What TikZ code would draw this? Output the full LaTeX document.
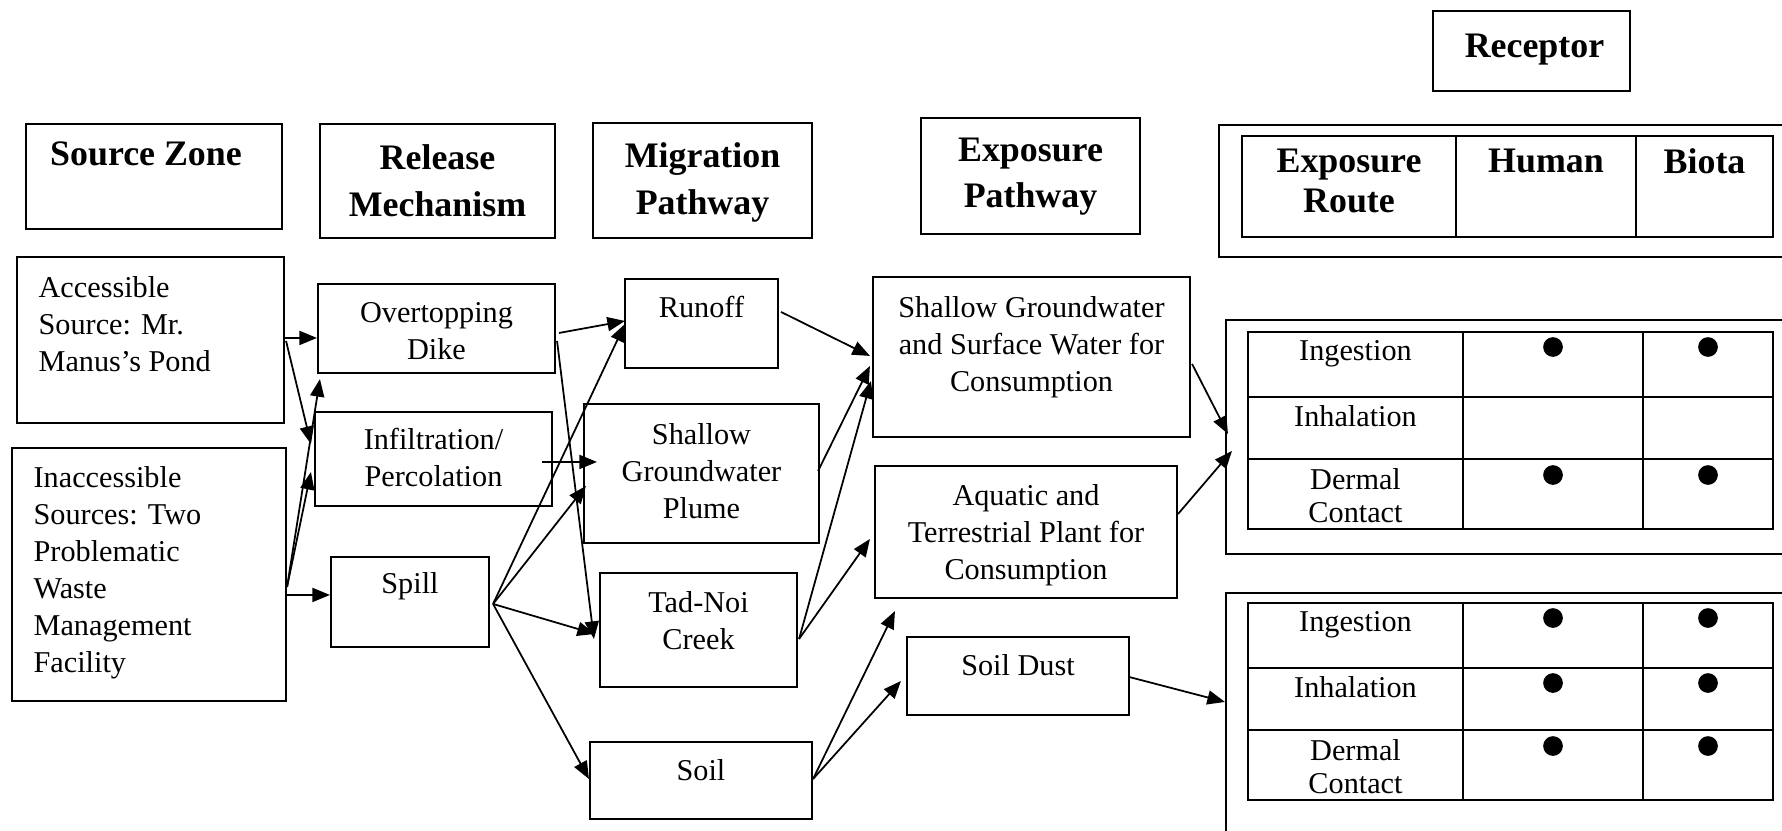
\documentclass[tikz,border=0pt]{standalone}
\usepackage{fontspec}
\setmainfont{Liberation Serif}
\usepackage{tikz}
\usetikzlibrary{arrows.meta}
\usetikzlibrary{calc}
\usetikzlibrary{fit}

\tikzset{
    box/.style={draw, line width=0.6pt, inner sep=0pt},
    headtxt/.style={anchor=north, inner sep=0pt, align=center, font=\fontsize{10.2}{13.3}\selectfont\bfseries},
    bodytxt/.style={anchor=north, inner sep=0pt, align=center, font=\fontsize{8.6}{10.5}\selectfont},
    flow/.style={-{Triangle[length=5pt,width=4pt]}, line width=0.5pt},
    grid/.style={line width=0.6pt}
}

\begin{document}
\begin{tikzpicture}[x=0.01cm, y=-0.01cm]
    \useasboundingbox (0,0) rectangle (1782,830);
    \clip (0,0) rectangle (1782,830);

    % column headings
    \node [box, fit={(26,124) (282,229)}] (srczone) {};
    \node [headtxt] (srczone-t) at ($(srczone.north)+(-8,18)$) {Source Zone};
    \node [box, fit={(320,124) (555,238)}] (release) {};
    \node [headtxt] (release-t) at ($(release.north)+(0,21)$) {Release\\Mechanism};
    \node [box, fit={(593,123) (812,238)}] (migration) {};
    \node [headtxt] (migration-t) at ($(migration.north)+(0,20)$) {Migration\\Pathway};
    \node [box, fit={(921,118) (1140,234)}] (exposure) {};
    \node [headtxt] (exposure-t) at ($(exposure.north)+(0,20)$) {Exposure\\Pathway};
    \node [box, fit={(1433,11) (1630,91)}] (receptor) {};
    \node [headtxt] (receptor-t) at ($(receptor.north)+(3,23)$) {Receptor};

    \node [box, fit={(1219,125) (1800,257)}] (hdr) {};
    \draw [grid] (1242,136) rectangle (1773,237);
    \draw [grid] (1456,136) -- (1456,237) (1636,136) -- (1636,237);
    \node [headtxt, font=\fontsize{10.2}{11.6}\selectfont\bfseries] (hdr-route) at (1349,148) {Exposure\\Route};
    \node [headtxt] (hdr-human) at (1546,148) {Human};
    \node [headtxt] (hdr-biota) at (1704.5,148) {Biota};

    % sources
    \node [box, fit={(17,257) (284,423)}] (acc) {};
    \node [bodytxt, anchor=north west, align=left] (acc-t) at ($(acc.north west)+(22,20)$) {Accessible\\Source: Mr.\\Manus’s Pond};
    \node [box, fit={(12,448) (286,701)}] (inacc) {};
    \node [bodytxt, anchor=north west, align=left] (inacc-t) at ($(inacc.north west)+(22,19)$) {Inaccessible\\Sources: Two\\Problematic\\Waste\\Management\\Facility};

    % release
    \node [box, fit={(318,284) (555,373)}] (dike) {};
    \node [bodytxt] (dike-t) at ($(dike.north)+(0,19)$) {Overtopping\\Dike};
    \node [box, fit={(315,412) (552,506)}] (infil) {};
    \node [bodytxt] (infil-t) at ($(infil.north)+(0,17)$) {Infiltration/\\Percolation};
    \node [box, fit={(331,557) (489,647)}] (spill) {};
    \node [bodytxt] (spill-t) at ($(spill.north)+(0,16)$) {Spill};

    % migration
    \node [box, fit={(625,279) (778,368)}] (runoff) {};
    \node [bodytxt] (runoff-t) at ($(runoff.north)+(0,18)$) {Runoff};
    \node [box, fit={(584,404) (819,543)}] (plume) {};
    \node [bodytxt] (plume-t) at ($(plume.north)+(0,20)$) {Shallow\\Groundwater\\Plume};
    \node [box, fit={(600,573) (797,687)}] (creek) {};
    \node [bodytxt] (creek-t) at ($(creek.north)+(0,19)$) {Tad-Noi\\Creek};
    \node [box, fit={(590,742) (812,819)}] (soil) {};
    \node [bodytxt] (soil-t) at ($(soil.north)+(0,18)$) {Soil};

    % exposure
    \node [box, fit={(873,277) (1190,437)}] (sgw) {};
    \node [bodytxt] (sgw-t) at ($(sgw.north)+(0,20)$) {Shallow Groundwater\\and Surface Water for\\Consumption};
    \node [box, fit={(875,466) (1177,598)}] (aquatic) {};
    \node [bodytxt] (aquatic-t) at ($(aquatic.north)+(0,19)$) {Aquatic and\\Terrestrial Plant for\\Consumption};
    \node [box, fit={(907,637) (1129,715)}] (dust) {};
    \node [bodytxt] (dust-t) at ($(dust.north)+(0,18)$) {Soil Dust};

    % receptor tables
    \node [box, fit={(1226,320) (1800,554)}] (upper) {};
    \node [box, fit={(1226,593) (1800,850)}] (lower) {};
    \foreach \tab/\dy in {up/0, lo/271} {
        \begin{scope}[shift={(0,\dy)}]
            \draw [grid] (1248,332) rectangle (1773,529);
            \draw [grid] (1248,397) -- (1773,397) (1248,459) -- (1773,459)
                (1463,332) -- (1463,529) (1643,332) -- (1643,529);
            \node [bodytxt] (\tab-ing) at (1355.5,340) {Ingestion};
            \node [bodytxt] (\tab-inh) at (1355.5,405) {Inhalation};
            \node [bodytxt, font=\fontsize{8.6}{9.4}\selectfont] (\tab-der) at (1355.5,468) {Dermal\\Contact};
            \fill (1553,347) circle (2.8pt) (1708,347) circle (2.8pt);
            \fill (1553,475) circle (2.8pt) (1708,475) circle (2.8pt);
        \end{scope}
    }
    \fill (1553,683) circle (2.8pt) (1708,683) circle (2.8pt); % only dust reaches by inhalation

    % source -> release
    \draw [flow] ($(acc.north east)+(0,82)$) -- ($(dike.north west)+(0,55)$);
    \draw [flow] ($(acc.north east)+(1,85)$) -- ($(infil.north west)+(-3,33)$);
    \draw [flow] ($(inacc.north east)+(0,148)$) -- ($(spill.north west)+(0,39)$);
    \draw [flow] ($(inacc.north east)+(0,140)$) -- ($(dike.south west)+(3,5)$);
    \draw [flow] ($(inacc.north east)+(0,140)$) -- ($(infil.north west)+(-3,61)$);

    % release -> migration
    \draw [flow] ($(dike.north east)+(3,50)$) -- ($(runoff.north west)+(1,43)$);
    \draw [flow] ($(dike.north east)+(1,58)$) -- ($(creek.north west)+(-5,67)$);
    \draw [flow] ($(infil.north east)+(-11,51)$) -- ($(plume.north west)+(14,59)$);
    \draw [flow] ($(spill.north east)+(3,48)$) -- ($(runoff.north west)+(1,46)$);
    \draw [flow] ($(spill.north east)+(3,48)$) -- ($(plume.north west)+(3,83)$);
    \draw [flow] ($(spill.north east)+(3,48)$) -- ($(creek.north west)+(-4,62)$);
    \draw [flow] ($(spill.north east)+(3,48)$) -- ($(soil.north west)+(0,38)$);

    % migration -> exposure
    \draw [flow] ($(runoff.north east)+(2,34)$) -- ($(sgw.north west)+(-2,80)$);
    \draw [flow] ($(plume.north east)+(-2,68)$) -- ($(sgw.north west)+(-2,90)$);
    \draw [flow] ($(creek.north east)+(1,67)$) -- ($(sgw.north west)+(-1,105)$);
    \draw [flow] ($(creek.north east)+(1,67)$) -- ($(aquatic.north west)+(-4,74)$);
    \draw [flow] ($(soil.north east)+(0,38)$) -- ($(aquatic.south west)+(21,12)$);
    \draw [flow] ($(soil.north east)+(0,38)$) -- ($(dust.north west)+(-5,45)$);

    % exposure -> receptor
    \draw [flow] ($(sgw.north east)+(1,88)$) -- ($(upper.north west)+(3,115)$);
    \draw [flow] ($(aquatic.north east)+(0,49)$) -- ($(upper.north west)+(7,132)$);
    \draw [flow] ($(dust.north east)+(-1,41)$) -- ($(lower.north west)+(0,110)$);
\end{tikzpicture}
\end{document}
